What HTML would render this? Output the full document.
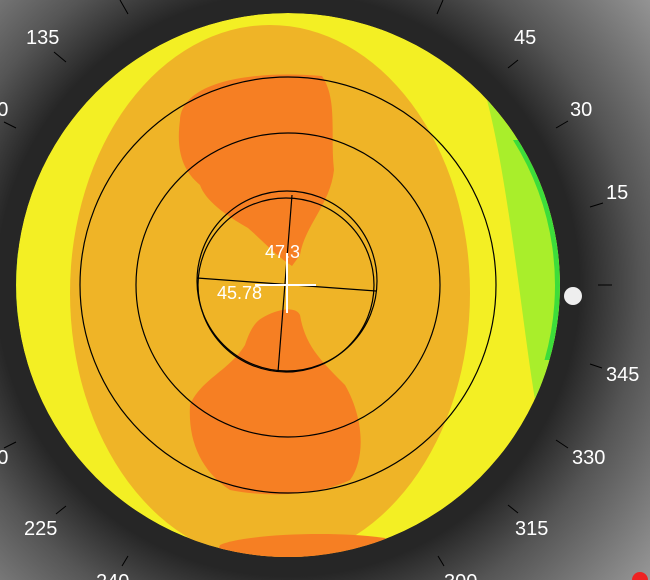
<!DOCTYPE html>
<html><head><meta charset="utf-8"><style>
html,body{margin:0;padding:0;background:#333;}
svg{display:block;}
text{font-family:"Liberation Sans",sans-serif;fill:#fff;}
</style></head><body>
<svg width="650" height="580" viewBox="0 0 650 580">
<defs>
<radialGradient id="bg" cx="288" cy="285" r="470" gradientUnits="userSpaceOnUse">
<stop offset="0" stop-color="#222"/>
<stop offset="0.62" stop-color="#262626"/>
<stop offset="0.75" stop-color="#555"/>
<stop offset="1" stop-color="#999"/>
</radialGradient>
<clipPath id="disk"><circle cx="288" cy="285" r="272"/></clipPath>
</defs>
<rect width="650" height="580" fill="url(#bg)"/>
<circle cx="573" cy="296" r="9" fill="#eee"/>
<g clip-path="url(#disk)">
<circle cx="288" cy="285" r="272" fill="#f3ef24"/>
<path d="M487,100 A272,272 0 0,1 535,400 C522,320 508,180 487,100 Z" fill="#a9ee2b"/>
<path d="M518,140 A272,272 0 0,1 549.5,360 L544.5,360 A272,272 0 0,0 513,140 Z" fill="#3ddd3a"/>
<ellipse cx="270" cy="293" rx="200" ry="268" fill="#efb427"/>
<path d="M180,120 C182,82 250,70 322,76 C338,100 330,135 334,170 C330,205 305,225 300,255 L292,266 C275,255 262,240 248,228 C225,215 205,200 200,185 C182,170 176,150 180,120 Z" fill="#f67f23"/>
<path d="M262,318 C275,310 295,305 300,315 C305,345 320,360 345,385 C365,420 365,460 350,480 C320,495 270,498 230,490 C200,470 188,440 190,405 C200,380 230,370 245,345 C250,330 255,322 262,318 Z" fill="#f67f23"/>
<path d="M220,545 C240,535 330,530 385,538 L400,570 L210,570 Z" fill="#f67f23"/>
</g>
<path d="M17,250 A272,272 0 0,0 17,320" fill="none" stroke="#a9ee2b" stroke-width="3" clip-path="url(#disk)"/>
<g fill="none" stroke="#000" stroke-width="1.2">
<circle cx="288" cy="285" r="208"/>
<circle cx="288" cy="285" r="152"/>
<ellipse cx="287" cy="281" rx="90" ry="90"/>
<ellipse cx="286" cy="285" rx="88" ry="87"/>
<line x1="292" y1="195" x2="278" y2="372"/>
<line x1="197" y1="278" x2="376" y2="291"/>
</g>
<g stroke="#fff" stroke-width="2">
<line x1="287" y1="253" x2="287" y2="313"/>
<line x1="255" y1="285" x2="316" y2="285"/>
</g>
<text x="265" y="258" font-size="18">47.3</text>
<text x="217" y="299" font-size="18">45.78</text>
<g font-size="20">
<text x="26" y="44">135</text>
<text x="514" y="44">45</text>
<text x="570" y="116">30</text>
<text x="606" y="199">15</text>
<text x="606" y="381">345</text>
<text x="572" y="464">330</text>
<text x="515" y="535">315</text>
<text x="24" y="535">225</text>
<text x="-25" y="116">150</text>
<text x="-25" y="464">210</text>
<text x="96" y="588">240</text>
<text x="444" y="588">300</text>
</g>
<g stroke="#000" stroke-width="1">
<line x1="54" y1="52" x2="66" y2="62"/>
<line x1="120" y1="0" x2="128" y2="14"/>
<line x1="443" y1="0" x2="437" y2="14"/>
<line x1="518" y1="60" x2="508" y2="68"/>
<line x1="568" y1="121" x2="556" y2="128"/>
<line x1="603" y1="203" x2="590" y2="207"/>
<line x1="598" y1="285" x2="612" y2="285"/>
<line x1="590" y1="364" x2="602" y2="368"/>
<line x1="556" y1="440" x2="568" y2="448"/>
<line x1="508" y1="505" x2="518" y2="513"/>
<line x1="438" y1="556" x2="444" y2="566"/>
<line x1="128" y1="556" x2="122" y2="566"/>
<line x1="66" y1="506" x2="56" y2="514"/>
<line x1="4" y1="122" x2="16" y2="128"/>
<line x1="4" y1="448" x2="16" y2="442"/>
</g>
<circle cx="640" cy="580" r="8" fill="#e22"/>
</svg>
</body></html>
